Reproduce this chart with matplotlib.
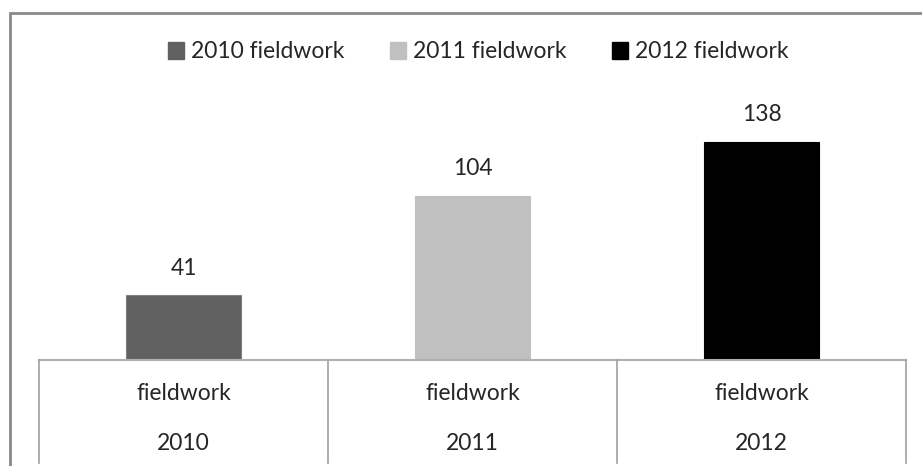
import matplotlib.pyplot as plt
from matplotlib.patches import Patch, Rectangle

# data
years = ['2010', '2011', '2012']
series = ['2010 fieldwork', '2011 fieldwork', '2012 fieldwork']
values = [41, 104, 138]
colors = ['#606060', '#C0C0C0', '#000000']

W, H = 922, 466
plt.rcParams['font.family'] = ['Lato', 'DejaVu Sans']
txt = '#262626'
fs = 16.5

fig = plt.figure(figsize=(W / 100, H / 100), dpi=100)

# outer chart border (right and bottom run off the picture)
fig.patches.append(Rectangle((10 / W, -0.1), 1.2, (H - 13) / H + 0.1,
                             transform=fig.transFigure, fill=False,
                             edgecolor='#8a8a8a', lw=2))

left, right, base = 39, 906, 360
ymax = 160
ax = fig.add_axes([left / W, (H - base) / H, (right - left) / W, ymax * 1.58 / H])
ax.set_xlim(-0.5, 2.5)
ax.set_ylim(0, ymax)
ax.axis('off')

x = range(len(years))
ax.bar(x, values, width=0.4, color=colors, edgecolor=['#808080', '#C0C0C0', '#000000'], lw=0.8)
for xi, v in zip(x, values):
    ax.annotate(str(v), (xi, v), xytext=(0, 27), textcoords='offset pixels',
                ha='center', va='center', fontsize=fs, color=txt)

# category table under the axis
tr = ax.get_xaxis_transform()
ax.plot([-0.5, 2.5], [0, 0], color='#b0b0b0', lw=1.5, transform=tr, clip_on=False)
scale = ymax * 1.58
for b in [-0.5, 0.5, 1.5, 2.5]:
    ax.plot([b, b], [0, -(463 - base) / scale], color='#a0a0a0', lw=1.2, transform=tr, clip_on=False)
for xi, yr in zip(x, years):
    ax.text(xi, -(394 - base) / scale, 'fieldwork', transform=tr, ha='center', va='center',
            fontsize=fs, color=txt)
    ax.text(xi, -(443 - base) / scale, yr, transform=tr, ha='center', va='center',
            fontsize=fs, color=txt)

handles = [Patch(facecolor=c, edgecolor=c) for c in colors]
fig.legend(handles, series, loc='center', bbox_to_anchor=(478 / W, 1 - 52 / H), ncol=3,
           frameon=False, fontsize=fs, handlelength=0.7, handleheight=0.7,
           handletextpad=0.3, columnspacing=2.0, labelcolor=txt)

fig.savefig('out.png', dpi=100)
